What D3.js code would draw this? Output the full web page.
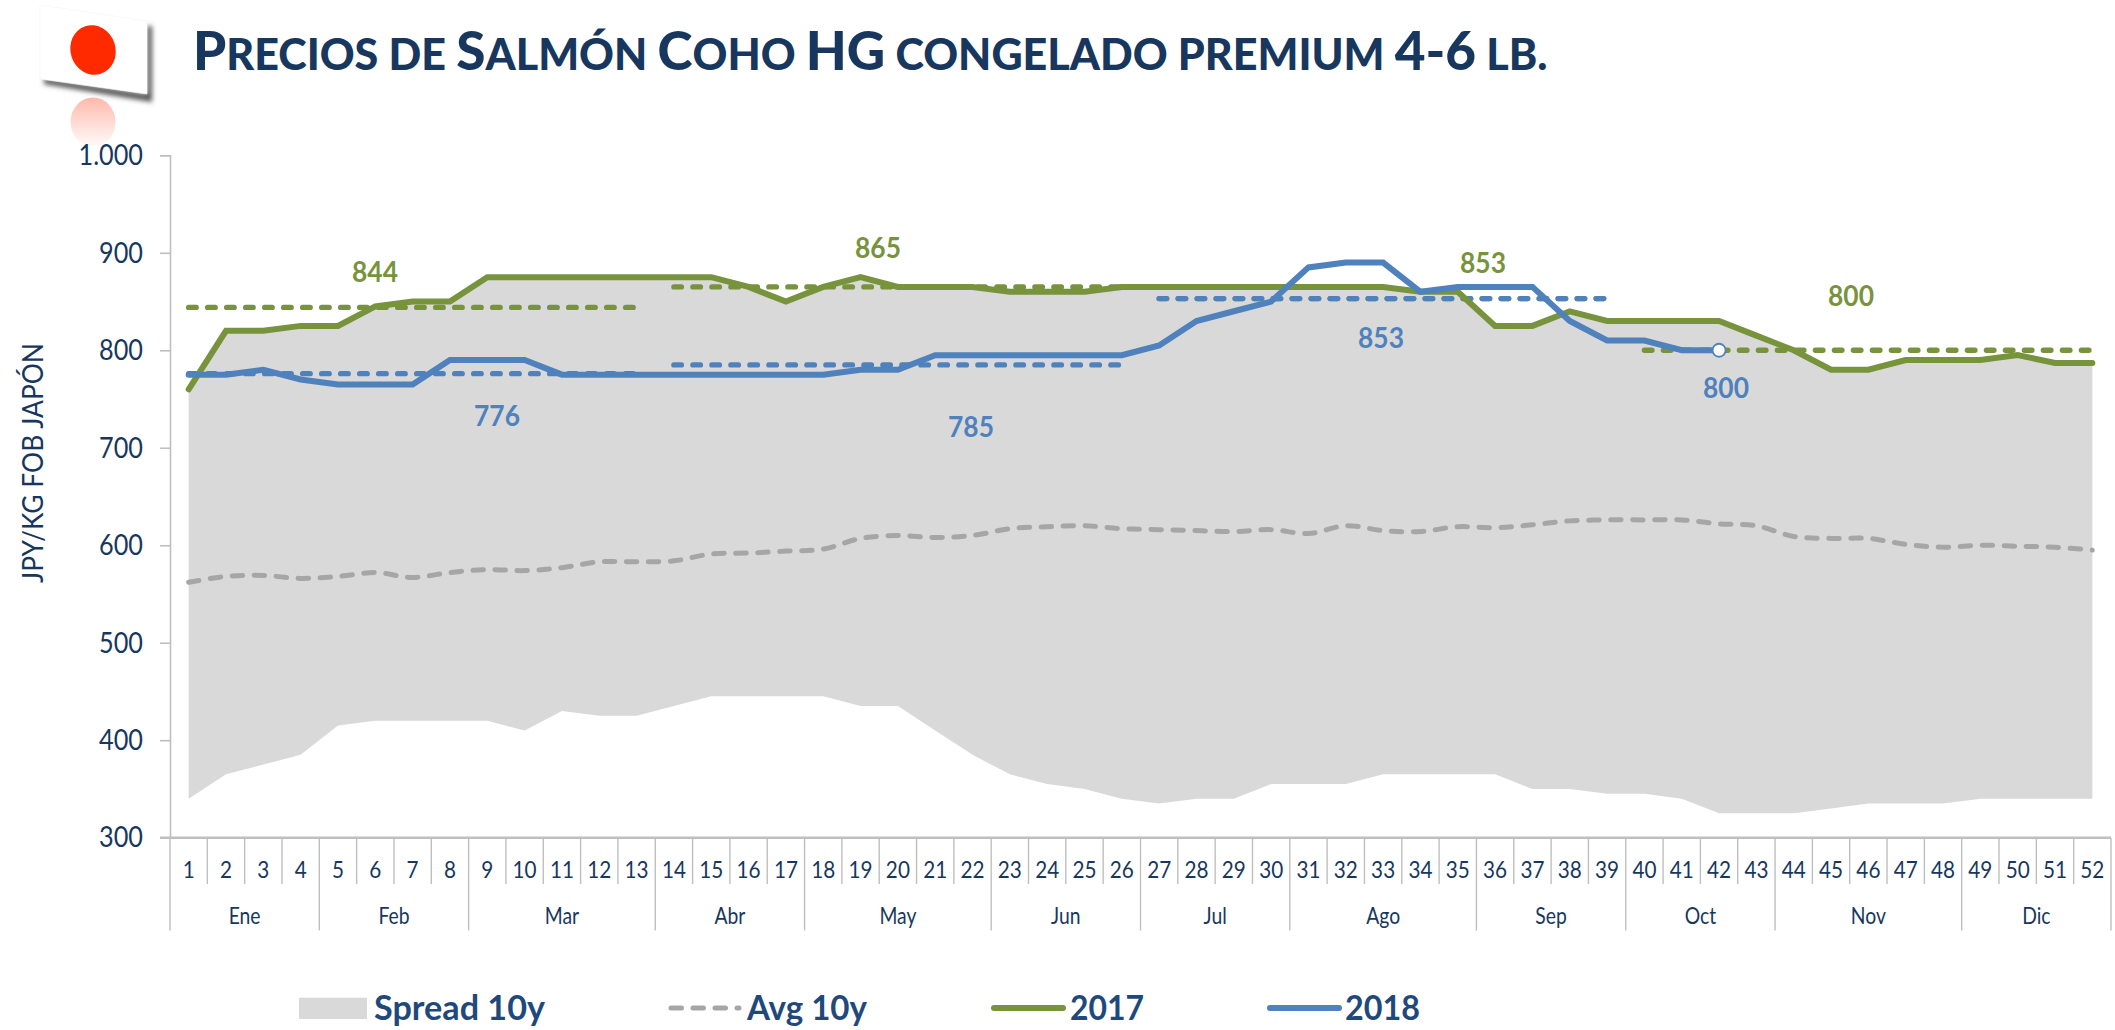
<!DOCTYPE html>
<html><head><meta charset="utf-8">
<script src="https://cdnjs.cloudflare.com/ajax/libs/d3/7.8.5/d3.min.js"></script>
<style>
html,body{margin:0;padding:0;background:#fff;overflow:hidden}
svg{display:block}
text{font-family:Lato,"Open Sans",sans-serif}
</style></head><body>
<svg id="c" width="2115" height="1030"></svg>
<script>
const weeks = d3.range(1,53);
const months = ["Ene","Feb","Mar","Abr","May","Jun","Jul","Ago","Sep","Oct","Nov","Dic"];
const monthWeeks = [4,4,5,4,5,4,4,5,4,4,5,4];
const yTicks = [300,400,500,600,700,800,900,1000];
const spreadHigh = [760,820,820,825,825,845,850,850,875,875,875,875,875,875,875,865,850,865,875,865,865,865,860,860,860,865,865,865,865,865,865,865,865,860,860,825,825,840,830,830,830,830,815,800,780,780,790,790,790,795,787,787];
const spreadLow = [340,365,375,385,415,420,420,420,420,410,430,425,425,435,445,445,445,445,435,435,410,385,365,355,350,340,335,340,340,355,355,355,365,365,365,365,350,350,345,345,340,325,325,325,330,335,335,335,340,340,340,340];
const avg10y = [562,568,569,566,568,572,567,572,575,574,577,583,583,584,591,592,594,596,607,610,608,610,617,619,620,617,616,615,614,616,612,620,615,614,619,618,621,625,626,626,626,622,620,609,607,607,601,598,600,599,598,595];
const y2017 = [760,820,820,825,825,845,850,850,875,875,875,875,875,875,875,865,850,865,875,865,865,865,860,860,860,865,865,865,865,865,865,865,865,860,860,825,825,840,830,830,830,830,815,800,780,780,790,790,790,795,787,787];
const y2018 = [775,775,780,770,765,765,765,790,790,790,775,775,775,775,775,775,775,775,780,780,795,795,795,795,795,795,805,830,840,850,885,890,890,860,865,865,865,830,810,810,800,800];
const avgPeriods2017 = [[1,13,844],[14,26,865],[27,39,853],[40,52,800]];
const avgPeriods2018 = [[1,13,776],[14,26,785],[27,39,853],[40,42,800]];
const labels2017 = [["844",375,271],["865",878,247],["853",1483,262],["800",1851,295]];
const labels2018 = [["776",497,415],["785",971,426],["853",1381,337],["800",1726,387]];
const titleRuns = [["P",1],["recios de ",0],["S",1],["alm\u00f3n ",0],["C",1],["oho ",0],["HG",1],[" congelado premium ",0],["4-6",1],[" lb.",0]];
const yTitle = "JPY/KG FOB JAP\u00d3N";
const legendNames = ["Spread 10y","Avg 10y","2017","2018"];

const GREEN="#77933C", BLUE="#4F81BD", GREY="#A6A6A6", FILL="#D9D9D9", AX="#BFBFBF", INK="#17375E", LEG="#1F497D";
const svg = d3.select("#c");
const x = d3.scaleBand().domain(weeks).range([170,2111]).padding(0);
const cx = w => x(w)+x.bandwidth()/2;
const y = d3.scaleLinear().domain([300,1000]).range([837.7,155.3]);
const fmt = v => v>=1000 ? d3.format(",")(v).replace(",",".") : String(v);
const squeeze = (sel,k) => sel.each(function(){ this.setAttribute("textLength", this.getComputedTextLength()*k); this.setAttribute("lengthAdjust","spacingAndGlyphs"); });

// flag
const defs = svg.append("defs");
defs.append("filter").attr("id","blur").attr("x","-30%").attr("y","-30%").attr("width","160%").attr("height","160%")
  .append("feGaussianBlur").attr("stdDeviation",2.6);
const rg = defs.append("linearGradient").attr("id","refl").attr("x1",0).attr("x2",0).attr("y1",0).attr("y2",1);
rg.append("stop").attr("offset",0).attr("stop-color","#FF2A00").attr("stop-opacity",.33);
rg.append("stop").attr("offset",1).attr("stop-color","#FF2A00").attr("stop-opacity",.02);
const flag = svg.append("g");
flag.append("polygon").attr("points","44,84 152,102 152,26 147,26 147,94 44,78").attr("fill","#555").attr("filter","url(#blur)");
flag.append("polygon").attr("points","40,5 147,21 147,94 40,79").attr("fill","#fff").attr("stroke","#f4f4f4").attr("stroke-width",.6);
flag.append("ellipse").attr("cx",93).attr("cy",50).attr("rx",22.5).attr("ry",25).attr("transform","rotate(-18 93 50)").attr("fill","#FF2A00");
flag.append("ellipse").attr("cx",93).attr("cy",122).attr("rx",22.5).attr("ry",24.5).attr("fill","url(#refl)");

// title
const t = svg.append("text").attr("x",0).attr("y",0).attr("font-weight",900).attr("fill",INK).attr("xml:space","preserve").style("white-space","pre");
titleRuns.forEach(([s,big])=>{
  t.append("tspan").attr("font-size",big?53:43).style("text-transform",big?"none":"uppercase").text(s);
});
const tw = t.node().getComputedTextLength();
t.attr("transform",`translate(193,70) scale(${1355/tw},1)`);

// spread and average
const area = d3.area().x((d,i)=>cx(weeks[i])).y0((d,i)=>y(spreadLow[i])).y1(d=>y(d));
svg.append("path").datum(spreadHigh).attr("d",area).attr("fill",FILL);
const line = d3.line().x((d,i)=>cx(weeks[i])).y(d=>y(d));
const smooth = d3.line().x((d,i)=>cx(weeks[i])).y(d=>y(d)).curve(d3.curveCatmullRom.alpha(.5));
svg.append("path").datum(avg10y).attr("d",smooth).attr("fill","none").attr("stroke",GREY).attr("stroke-width",5).attr("stroke-linecap","round").attr("stroke-dasharray","10.5 11.5");

// axes
const yAxis = svg.append("g").attr("transform","translate(170,0)")
  .call(d3.axisLeft(y).tickValues(yTicks).tickFormat(fmt).tickSize(10).tickPadding(17));
yAxis.selectAll("path,line").attr("stroke",AX).attr("stroke-width",1.6);
yAxis.selectAll("text").attr("font-size",29).attr("fill",INK).style("font-family","Lato").call(squeeze,.87);
const xAxis = svg.append("g").attr("transform",`translate(0,${y(300)})`)
  .call(d3.axisBottom(x).tickSize(0).tickPadding(0));
xAxis.select("path").remove();
xAxis.selectAll("text").attr("y",40).attr("dy",0).attr("font-size",23).attr("fill",INK).style("font-family","Lato").call(squeeze,.9);
svg.append("line").attr("x1",160).attr("x2",2111).attr("y1",y(300)).attr("y2",y(300)).attr("stroke",AX).attr("stroke-width",2.4);
svg.append("g").selectAll("line").data(d3.range(0,53)).join("line")
  .attr("x1",i=>170+i*x.step()).attr("x2",i=>170+i*x.step())
  .attr("y1",y(300)).attr("y2",884).attr("stroke",AX).attr("stroke-width",1.4);
let acc=0;
const mg = svg.append("g");
months.forEach((m,i)=>{
  const x0=170+acc*x.step(), x1=170+(acc+monthWeeks[i])*x.step();
  mg.append("line").attr("x1",x0).attr("x2",x0).attr("y1",884).attr("y2",930.5).attr("stroke",AX).attr("stroke-width",1.4);
  if(i===months.length-1) mg.append("line").attr("x1",x1).attr("x2",x1).attr("y1",884).attr("y2",930.5).attr("stroke",AX).attr("stroke-width",1.4);
  mg.append("text").attr("x",(x0+x1)/2).attr("y",924).attr("text-anchor","middle").attr("font-size",23).attr("fill",INK).text(m).call(squeeze,.84);
  acc+=monthWeeks[i];
});

// period averages
const dash = (arr,col)=>svg.append("g").selectAll("line").data(arr).join("line")
  .attr("x1",d=>cx(d[0])).attr("x2",d=>cx(d[1])).attr("y1",d=>y(d[2])).attr("y2",d=>y(d[2]))
  .attr("stroke",col).attr("stroke-width",5.4).attr("stroke-linecap","round").attr("stroke-dasharray","7.5 11.5");
dash(avgPeriods2017,GREEN);
dash(avgPeriods2018.slice(0,3),BLUE);

// series
svg.append("path").datum(y2017).attr("d",line).attr("fill","none").attr("stroke",GREEN).attr("stroke-width",6).attr("stroke-linecap","round");
svg.append("path").datum(y2018).attr("d",line).attr("fill","none").attr("stroke",BLUE).attr("stroke-width",6).attr("stroke-linecap","round");
svg.append("circle").attr("cx",cx(y2018.length)).attr("cy",y(y2018[y2018.length-1])).attr("r",6.5).attr("fill","#fff").attr("stroke",BLUE).attr("stroke-width",1.8);

// value labels
const lab=(arr,col)=>svg.append("g").selectAll("text").data(arr).join("text")
  .attr("x",d=>d[1]).attr("y",d=>d[2]+10.5).attr("text-anchor","middle").attr("font-size",29).attr("font-weight",700).attr("fill",col).text(d=>d[0]).call(squeeze,.91);
lab(labels2017,GREEN); lab(labels2018,BLUE);

// axis title
svg.append("text").attr("transform","translate(43,463) rotate(-90)").attr("text-anchor","middle").attr("font-size",29).attr("fill",INK)
  .attr("textLength",240).attr("lengthAdjust","spacingAndGlyphs").text(yTitle);

// legend
const lg=svg.append("g");
const legText=(s,x0,w)=>lg.append("text").attr("x",x0).attr("y",1020).attr("font-size",34).attr("font-weight",700).attr("fill",LEG).attr("textLength",w).attr("lengthAdjust","spacingAndGlyphs").text(s);
lg.append("rect").attr("x",299).attr("y",997.7).attr("width",68).attr("height",21.3).attr("fill",FILL);
legText(legendNames[0],374,171);
lg.append("line").attr("x1",671).attr("x2",739).attr("y1",1008).attr("y2",1008).attr("stroke",GREY).attr("stroke-width",5).attr("stroke-linecap","round").attr("stroke-dasharray","10.5 11.5");
legText(legendNames[1],747,120);
lg.append("line").attr("x1",994).attr("x2",1063).attr("y1",1008).attr("y2",1008).attr("stroke",GREEN).attr("stroke-width",6).attr("stroke-linecap","round");
legText(legendNames[2],1070,74);
lg.append("line").attr("x1",1270).attr("x2",1339).attr("y1",1008).attr("y2",1008).attr("stroke",BLUE).attr("stroke-width",6).attr("stroke-linecap","round");
legText(legendNames[3],1345,75);
</script>
</body></html>
